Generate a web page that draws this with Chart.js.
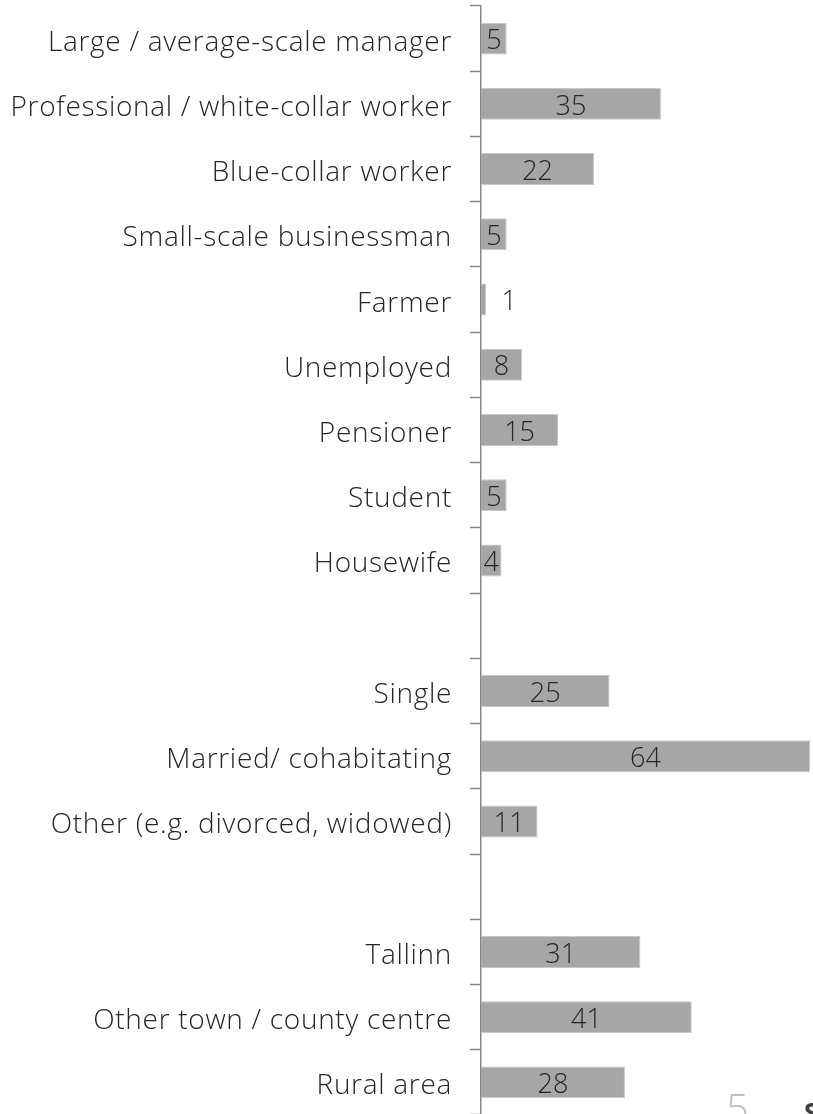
<!DOCTYPE html>
<html lang="en">
<head>
  <meta charset="UTF-8">
  <title>Respondent profile</title>
  <script src="https://cdn.jsdelivr.net/npm/chart.js"></script>
  <style>
    html, body { margin: 0; padding: 0; background: #fff; overflow: hidden; }
    .wrap { position: relative; width: 813px; height: 1115px; }
    .pg { position: absolute; font-family: "Open Sans", sans-serif; }
    #pgNum { left: 726px; top: 1080px; font-size: 40px; font-weight: 300; color: #bfbfbf; }
    #pgS { left: 804px; top: 1094px; font-size: 26px; font-weight: 700; color: #404040; }
  </style>
</head>
<body>
  <div class="wrap">
    <canvas id="profileChart"></canvas>
    <span class="pg" id="pgNum">5</span>
    <span class="pg" id="pgS">S</span>
  </div>

  <script>
    // categories (empty strings are spacer rows between groups)
    const categories = [
      'Large / average-scale manager',
      'Professional / white-collar worker',
      'Blue-collar worker',
      'Small-scale businessman',
      'Farmer',
      'Unemployed',
      'Pensioner',
      'Student',
      'Housewife',
      '',
      'Single',
      'Married/ cohabitating',
      'Other (e.g. divorced, widowed)',
      '',
      'Tallinn',
      'Other town / county centre',
      'Rural area'
    ];
    const shares = [5, 35, 22, 5, 1, 8, 15, 5, 4, null, 25, 64, 11, null, 31, 41, 28];
    const xMax = 64;

    const fontFamily = '"Open Sans", "Segoe UI", sans-serif';

    // a bit of tracking so Open Sans Light gets closer to the original's width
    const spacing = {
      id: 'spacing',
      beforeDraw(chart) { chart.ctx.letterSpacing = '0.7px'; }
    };

    // draws the value in the middle of each bar (or just past very short bars)
    const barValues = {
      id: 'barValues',
      afterDatasetsDraw(chart) {
        const ctx = chart.ctx;
        const meta = chart.getDatasetMeta(0);
        ctx.save();
        ctx.letterSpacing = '0px';
        ctx.font = '300 27px ' + fontFamily;
        ctx.fillStyle = '#262626';
        ctx.textAlign = 'center';
        ctx.textBaseline = 'middle';
        meta.data.forEach((bar, i) => {
          const v = shares[i];
          if (v === null) return;
          let x = (bar.x + bar.base) / 2;
          if (v < 3) x = bar.x + 23;
          ctx.fillText(String(v), x, bar.y + 3);
        });
        ctx.restore();
      }
    };

    new Chart(document.getElementById('profileChart'), {
      type: 'bar',
      data: {
        labels: categories,
        datasets: [{
          data: shares,
          backgroundColor: '#a6a6a6',
          borderColor: '#c8c8c8',
          borderWidth: 1,
          barPercentage: 0.49,
          categoryPercentage: 1
        }]
      },
      options: {
        indexAxis: 'y',
        responsive: true,
        maintainAspectRatio: false,
        animation: false,
        layout: { padding: { top: 6, right: 3, bottom: 0, left: 0 } },
        plugins: {
          legend: { display: false },
          tooltip: { enabled: false }
        },
        scales: {
          x: {
            display: false,
            min: 0,
            max: xMax
          },
          y: {
            afterFit(scale) {
              scale.width = 481;
              scale.paddingTop = 0;
              scale.paddingBottom = 0;
            },
            border: { display: true, color: '#868686', width: 1.5 },
            grid: {
              drawOnChartArea: false,
              drawTicks: true,
              tickLength: 11,
              tickColor: '#868686',
              tickWidth: 1.5,
              offset: true
            },
            ticks: {
              color: '#262626',
              padding: 18,
              labelOffset: 4,
              autoSkip: false,
              font: { family: fontFamily, size: 28, weight: 300 }
            }
          }
        }
      },
      plugins: [spacing, barValues]
    });
  </script>
</body>
</html>
